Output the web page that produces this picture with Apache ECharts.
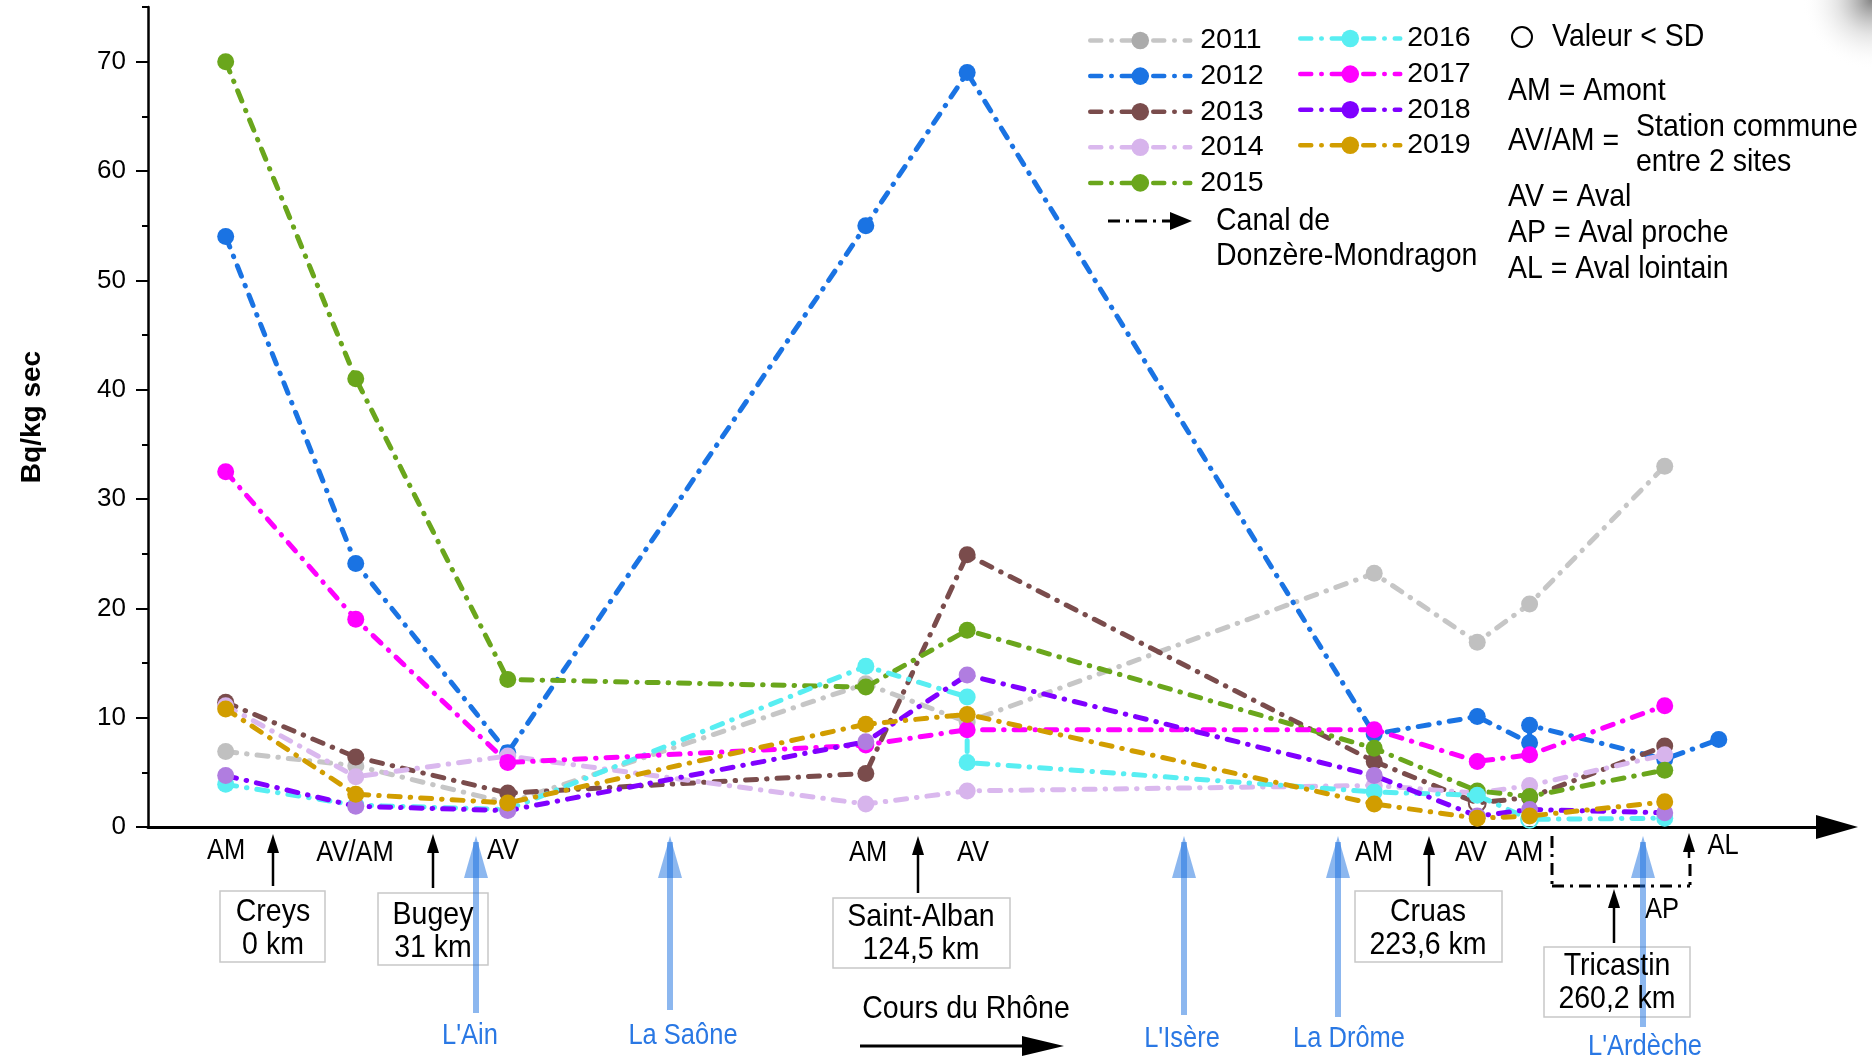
<!DOCTYPE html>
<html><head><meta charset="utf-8">
<script src="https://cdn.jsdelivr.net/npm/echarts@6/dist/echarts.min.js"></script>
<style>html,body{margin:0;padding:0;background:#fff}#c{width:1872px;height:1060px}</style>
</head><body><div id="c"></div>
<script>
// ---- Data ----
const years = ['2011','2012','2013','2014','2015','2016','2017','2018','2019'];
// sampling stations along the Rhône (schematic position along the river, 0-100)
const stations = ['AM','AV/AM','AV','AM','AV','AM','AV','AM','AP','AL'];
const stationPos = [4.6, 12.3, 21.3, 42.5, 48.5, 72.6, 78.7, 81.8, 89.8, 93.0];
// [station index, Bq/kg sec]
const v2011 = [[0,6.9],[1,5.6],[2,2.2],[3,13.1],[4,9.6],[5,23.2],[6,16.9],[7,20.4],[8,33.0]];
const v2012 = [[0,54.0],[1,24.1],[2,6.8],[3,55.0],[4,69.0],[5,8.5],[6,10.1],[7,7.7],[7,9.3],[8,6.2],[9,8.0]];
const v2013 = [[0,11.4],[1,6.4],[2,3.1],[3,4.9],[4,24.9],[5,6.0],[6,2.2],[7,2.7],[8,7.4]];
const v2014 = [[0,11.1],[1,4.6],[2,6.5],[3,2.1],[4,3.3],[5,3.8],[6,3.1],[7,3.8],[8,6.6]];
const v2015 = [[0,70.0],[1,41.0],[2,13.5],[3,12.8],[4,18.0],[5,7.2],[6,3.3],[7,2.8],[8,5.2]];
const v2016 = [[0,3.9],[1,2.0],[2,1.6],[3,14.7],[4,11.9],[4,5.9],[5,3.2],[6,2.9],[7,0.7],[8,0.8]];
const v2017 = [[0,32.5],[1,19.0],[2,5.9],[3,7.5],[4,8.9],[5,8.9],[6,6.0],[7,6.6],[8,11.1]];
const v2018 = [[0,4.7],[1,1.9],[2,1.5],[3,7.8],[4,13.9],[5,4.7],[6,1.0],[7,1.6],[8,1.3]];
const v2019 = [[0,10.8],[1,3.0],[2,2.2],[3,9.4],[4,10.3],[5,2.1],[6,0.8],[7,1.0],[8,2.3]];
const values = [v2011,v2012,v2013,v2014,v2015,v2016,v2017,v2018,v2019];
// values below the detection threshold (Valeur < SD): [year, index in the year's list]
const belowSD = [['2013',6],['2016',8]];
const yTicks = [0,10,20,30,40,50,60,70];

// ---- Styles ----
const F = '"Liberation Sans", Arial, sans-serif';
const lineColors = ['#c6c6c6','#1a73e3','#7a4c4c','#dab8ee','#6aa61c','#58eef2','#ff00ff','#8000ff','#d19d00'];
const markColors = ['#c0c0c0','#1a73e3','#7a4c4c','#d7b4ec','#6aa61c','#58eef2','#ff00ff','#b07de0','#d19d00'];
const legendMark = ['#ababab','#1a73e3','#7a4c4c','#d7b4ec','#6aa61c','#58eef2','#ff00ff','#7f00ff','#d19d00'];
const dash = [11,10,0.5,10];

const chart = echarts.init(document.getElementById('c'), null, {renderer:'canvas'});

const series = years.map((y,i)=>({
  name: y, type:'line', symbol:'circle', symbolSize:17,
  z: 2 + i,
  lineStyle:{color:lineColors[i], width:5, type:dash, cap:'round'},
  itemStyle:{color:markColors[i]},
  data: values[i].map((p,k)=>{
    const item = {value:[stationPos[p[0]], p[1]]};
    if (belowSD.some(b=>b[0]===y && b[1]===k)) {
      item.itemStyle = {color:'rgba(255,255,255,0)', borderColor:markColors[i], borderWidth:2};
    }
    return item;
  })
}));

function T(x,y,text,size,align,color,bold){
  return {type:'text', x:x, y:y, scaleY:1.12, z:100,
    style:{text:text, fill:color||'#000', font:(bold?'bold ':'')+size+'px '+F,
      textAlign:align||'center', textVerticalAlign:'middle', align:align||'center', verticalAlign:'middle'}};
}
function L(x1,y1,x2,y2,color,w,ld){
  return {type:'line', z:90, shape:{x1,y1,x2,y2}, style:{stroke:color||'#000', lineWidth:w||2.5, lineDash:ld||null}};
}
function P(points,color,z){ return {type:'polygon', z:z||90, shape:{points}, style:{fill:color||'#000'}}; }
function arrowUp(x,yb,yt){ return [L(x,yb,x,yt+14,'#000',2.5), P([[x-6,yt+19],[x+6,yt+19],[x,yt]])]; }
const BL = 'rgba(26,111,224,0.5)';
function river(x,yb,yt){ return [
  {type:'line', z:95, shape:{x1:x,y1:yb,x2:x,y2:yt+6}, style:{stroke:BL, lineWidth:6}},
  {type:'polygon', z:95, shape:{points:[[x-12,yt+42],[x+12,yt+42],[x,yt]]}, style:{fill:BL}}
];}
function box(x,y,w,h){ return {type:'rect', z:80, shape:{x,y,width:w,height:h}, style:{fill:'#fff', stroke:'#c8c8c8', lineWidth:1.5}}; }

const riverColor = '#2a78e4';
const graphics = [].concat(
  // station labels
  T(226,851,'AM',25.5), T(355,853,'AV/AM',25.5), T(503,851,'AV',25.5),
  T(868,853,'AM',25.5), T(973,853,'AV',25.5), T(1374,853,'AM',25.5),
  T(1471,853,'AV',25.5), T(1524,853,'AM',25.5), T(1662,910,'AP',25.5), T(1723,846,'AL',25.5),
  // plant boxes
  box(220,891,105,71), T(273,912,'Creys',28.5), T(273,945,'0 km',28.5),
  box(378,893,110,72), T(433,915,'Bugey',28.5), T(433,948,'31 km',28.5),
  box(833,898,177,70), T(921,917,'Saint-Alban',28.5), T(921,950,'124,5 km',28.5),
  box(1355,891,147,71), T(1428,912,'Cruas',28.5), T(1428,945,'223,6 km',28.5),
  box(1544,947,146,70), T(1617,966,'Tricastin',28.5), T(1617,999,'260,2 km',28.5),
  // black arrows
  arrowUp(273,886,834), arrowUp(433,888,834), arrowUp(918,893,836),
  arrowUp(1429,886,836), arrowUp(1614,943,889), arrowUp(1689,858,833),
  // canal dashed box
  L(1552,836,1552,886,'#000',3,[12,6,3,6]), L(1552,886,1690,886,'#000',3,[12,6,3,6]), L(1690,864,1690,886,'#000',3,[12,6,3,6]),
  // rivers
  river(476,1013,836), river(670,1010,836), river(1184,1015,836), river(1338,1017,836), river(1643,1027,836),
  T(470,1036,"L'Ain",25.5,'center',riverColor), T(683,1036,'La Saône',25.5,'center',riverColor),
  T(1182,1039,"L'Isère",25.5,'center',riverColor), T(1349,1039,'La Drôme',25.5,'center',riverColor),
  T(1645,1047,"L'Ardèche",25.5,'center',riverColor),
  // Cours du Rhône
  T(966,1009,'Cours du Rhône',28.5), L(860,1046,1025,1046,'#000',3), P([[1022,1036],[1022,1056],[1064,1046]]),
  // canal legend
  L(1108,221,1172,221,'#000',3,[12,6,3,6]), P([[1170,212],[1170,230],[1192,221]]),
  T(1216,221,'Canal de',28.5,'left'), T(1216,256,'Donzère-Mondragon',28.5,'left'),
  // right legend
  {type:'circle', z:100, shape:{cx:1522,cy:37,r:10}, style:{fill:'none', stroke:'#000', lineWidth:2}},
  T(1552,37,'Valeur < SD',28.5,'left'),
  T(1508,91,'AM = Amont',28.5,'left'),
  T(1508,141,'AV/AM =',28.5,'left'),
  T(1636,127,'Station commune',28.5,'left'),
  T(1636,162,'entre 2 sites',28.5,'left'),
  T(1508,197,'AV = Aval',28.5,'left'),
  T(1508,233,'AP = Aval proche',28.5,'left'),
  T(1508,269,'AL = Aval lointain',28.5,'left'),
  // corner shading
  {type:'rect', z:1, shape:{x:1772,y:0,width:100,height:70}, style:{fill:new echarts.graphic.RadialGradient(1,0,1,[{offset:0,color:'rgba(110,110,110,0.85)'},{offset:0.5,color:'rgba(190,190,190,0.4)'},{offset:1,color:'rgba(255,255,255,0)'}])}}
);

function legendCfg(list, left, top, pad){
  return {
    data: list.map(n=>({name:n, itemStyle:{color:legendMark[years.indexOf(n)]}})),
    orient:'vertical', left:left, top:top, itemWidth:100, itemHeight:22, itemGap:6.6,
    selectedMode:false,
    lineStyle:{width:4.5},
    textStyle:{fontFamily:F, fontSize:28.5, color:'#000', padding:[0,0,0,pad]}
  };
}

chart.setOption({
  animation:false,
  backgroundColor:'#fff',
  grid:{left:148, right:35, top:7, bottom:233, containLabel:false},
  legend:[legendCfg(years.slice(0,5),1083,21,5), legendCfg(years.slice(5),1293,19,2)],
  xAxis:{type:'value', min:0, max:100, splitLine:{show:false}, axisTick:{show:false}, axisLabel:{show:false},
    axisLine:{show:true, onZero:true, symbol:['none','triangle'], symbolSize:[24,42], lineStyle:{color:'#000', width:3}}},
  yAxis:[
    {type:'value', min:0, max:75, interval:10,
      name:'Bq/kg sec', nameLocation:'middle', nameGap:102,
      nameTextStyle:{fontFamily:F, fontSize:28, fontWeight:'bold', color:'#000'},
      splitLine:{show:false},
      axisLine:{show:true, lineStyle:{color:'#000', width:2.5}},
      axisTick:{show:true, length:12, customValues:yTicks, lineStyle:{color:'#000', width:2}},
      axisLabel:{margin:22, fontFamily:F, fontSize:26, color:'#000', customValues:yTicks}},
    {type:'value', min:0, max:75, interval:5, position:'left',
      splitLine:{show:false}, axisLine:{show:false}, axisLabel:{show:false},
      axisTick:{show:true, length:6, lineStyle:{color:'#000', width:2}}}
  ],
  series: series,
  graphic: graphics
});
</script></body></html>
